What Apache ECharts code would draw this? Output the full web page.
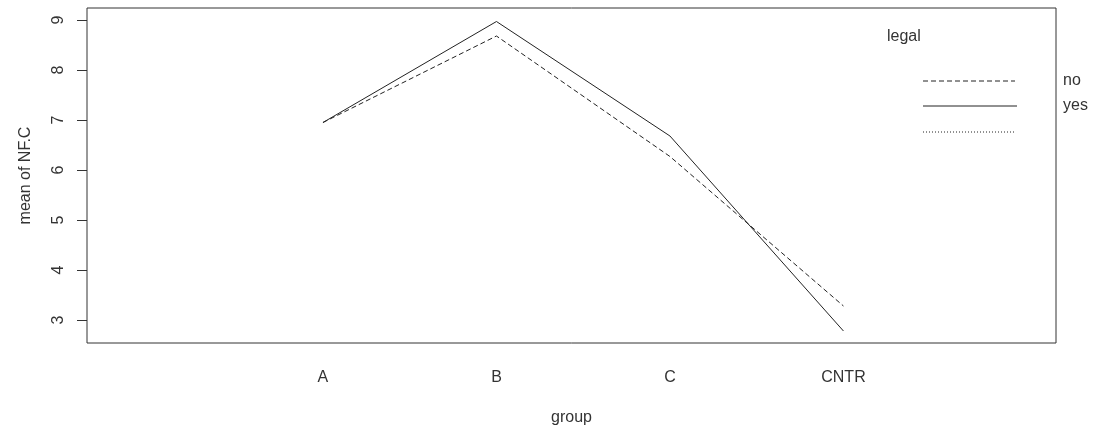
<!DOCTYPE html>
<html>
<head>
<meta charset="utf-8">
<script src="https://cdn.jsdelivr.net/npm/echarts@6/dist/echarts.min.js"></script>
<style>html,body{margin:0;padding:0;background:#fff}#c{width:1093px;height:430px}</style>
</head>
<body>
<div id="c"></div>
<script>
var groups = ['A', 'B', 'C', 'CNTR'];
var seriesNames = ['no', 'yes'];
var valuesNo = [6.95, 8.68, 6.27, 3.28];
var valuesYes = [6.95, 8.97, 6.68, 2.78];
var yTicks = [3, 4, 5, 6, 7, 8, 9];
var xPositions = [1, 2, 3, 4];

var FONT = 'Liberation Sans, Arial, sans-serif';
var TXT = '#333';
var LINE = '#222';
var FS = 16;

function pairs(vals) { return vals.map(function (v, i) { return [xPositions[i], v]; }); }

var chart = echarts.init(document.getElementById('c'), null, { renderer: 'canvas' });
chart.setOption({
  animation: false,
  backgroundColor: '#fff',
  grid: { left: 87, right: 37, top: 8, bottom: 87, outerBoundsMode: 'none', containLabel: false,
    show: true, borderColor: '#333', borderWidth: 1, backgroundColor: 'transparent' },
  xAxis: {
    type: 'value', min: -0.36, max: 5.225,
    axisLine: { show: false, onZero: false }, splitLine: { show: false },
    axisTick: { show: false },
    axisLabel: {
      customValues: xPositions, margin: 27, fontSize: FS, fontFamily: FONT, color: TXT,
      formatter: function (v) { return groups[Math.round(v) - 1] || ''; }
    },
    name: 'group', nameLocation: 'middle', nameGap: 67,
    nameTextStyle: { fontSize: FS, fontFamily: FONT, color: TXT }
  },
  yAxis: {
    type: 'value', min: 2.54, max: 9.24,
    axisLine: { show: false, onZero: false }, splitLine: { show: false },
    axisTick: { show: true, customValues: yTicks, length: 10, lineStyle: { color: '#333' } },
    axisLabel: { customValues: yTicks, rotate: 90, margin: 20, fontSize: FS, fontFamily: FONT, color: TXT },
    name: 'mean of NF.C', nameLocation: 'middle', nameGap: 53, nameRotate: 90,
    nameTextStyle: { fontSize: FS, fontFamily: FONT, color: TXT }
  },
  series: [
    { name: seriesNames[0], type: 'line', data: pairs(valuesNo), symbol: 'none',
      lineStyle: { color: LINE, width: 1, type: [5, 3] } },
    { name: seriesNames[1], type: 'line', data: pairs(valuesYes), symbol: 'none',
      lineStyle: { color: LINE, width: 1, type: 'solid' } }
  ],
  graphic: [
    { type: 'text', x: 887, y: 37, style: { text: 'legal', font: FS + 'px ' + FONT, fill: TXT, verticalAlign: 'middle' } },
    { type: 'line', shape: { x1: 923, y1: 81, x2: 1015, y2: 81 }, style: { stroke: LINE, lineWidth: 1, lineDash: [5, 3] } },
    { type: 'line', shape: { x1: 923, y1: 106, x2: 1017, y2: 106 }, style: { stroke: LINE, lineWidth: 1 } },
    { type: 'line', shape: { x1: 923, y1: 132, x2: 1015, y2: 132 }, style: { stroke: LINE, lineWidth: 1, lineDash: [1, 2] } },
    { type: 'text', x: 1063, y: 81, style: { text: seriesNames[0], font: FS + 'px ' + FONT, fill: TXT, verticalAlign: 'middle' } },
    { type: 'text', x: 1063, y: 106, style: { text: seriesNames[1], font: FS + 'px ' + FONT, fill: TXT, verticalAlign: 'middle' } }
  ]
});
</script>
</body>
</html>
